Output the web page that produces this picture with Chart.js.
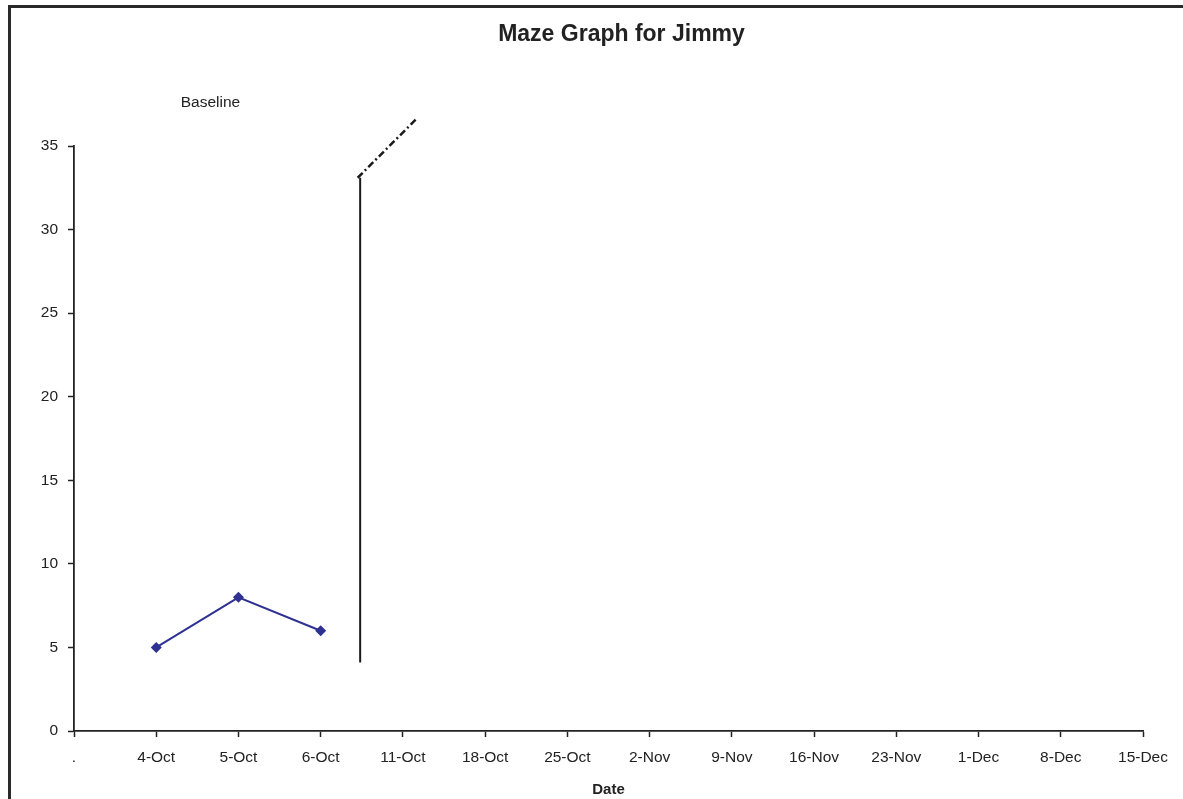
<!DOCTYPE html>
<html>
<head>
<meta charset="utf-8">
<title>Maze Graph for Jimmy</title>
<script src="https://cdn.jsdelivr.net/npm/chart.js@4.4.1/dist/chart.umd.min.js"></script>
<style>
  html, body { margin: 0; padding: 0; background: #fff; }
  canvas { display: block; }
</style>
</head>
<body>
<canvas id="maze" width="1183" height="799"></canvas>
<script>
// Session dates along the horizontal axis (first slot is a blank placeholder)
const dateLabels = ['.', '4-Oct', '5-Oct', '6-Oct', '11-Oct', '18-Oct', '25-Oct',
  '2-Nov', '9-Nov', '16-Nov', '23-Nov', '1-Dec', '8-Dec', '15-Dec'];

// Baseline maze scores
const baselineDates = ['4-Oct', '5-Oct', '6-Oct'];
const baselineScores = [5, 8, 6];

// Phase-change line between baseline and intervention
const phaseLineX = [3.48, 3.48];
const phaseLineY = [4.1, 33.1];
const phaseTailX = [3.45, 4.16];
const phaseTailY = [33.1, 36.6];

const yTicks = [0, 5, 10, 15, 20, 25, 30, 35];
const chartTitle = 'Maze Graph for Jimmy';
const phaseLabel = 'Baseline';

const FONT = "'Liberation Sans', Arial, Helvetica, sans-serif";
const INK = '#222222';

const toPoints = (xs, ys) => xs.map((x, i) => ({ x, y: ys[i] }));

// White page with a heavy frame on the left and top edges, plus the title
const framePlugin = {
  id: 'frame',
  beforeDraw(chart) {
    const ctx = chart.ctx;
    ctx.save();
    ctx.fillStyle = '#ffffff';
    ctx.fillRect(0, 0, chart.width, chart.height);
    ctx.strokeStyle = '#2a2a2a';
    ctx.lineWidth = 3;
    ctx.beginPath();
    ctx.moveTo(9.5, chart.height + 2);
    ctx.lineTo(9.5, 6.5);
    ctx.lineTo(chart.width + 2, 6.5);
    ctx.stroke();

    ctx.font = `bold 23px ${FONT}`;
    ctx.fillStyle = INK;
    ctx.textAlign = 'center';
    ctx.textBaseline = 'middle';
    ctx.fillText(chartTitle, 621.5, 34.5);
    ctx.restore();
  }
};

// Phase label placed in data coordinates
const phaseLabelPlugin = {
  id: 'phaseLabel',
  afterDatasetsDraw(chart) {
    const { ctx, scales } = chart;
    ctx.save();
    ctx.font = `15.5px ${FONT}`;
    ctx.fillStyle = INK;
    ctx.textAlign = 'center';
    ctx.textBaseline = 'middle';
    ctx.fillText(phaseLabel, scales.x.getPixelForValue(1.66), scales.y.getPixelForValue(37.6));
    ctx.restore();
  }
};

new Chart(document.getElementById('maze'), {
  type: 'line',
  data: {
    datasets: [
      {
        label: 'Baseline',
        data: baselineDates.map((d, i) => ({ x: dateLabels.indexOf(d), y: baselineScores[i] })),
        borderColor: '#2e3192',
        backgroundColor: '#2e3192',
        borderWidth: 2,
        pointStyle: 'rectRot',
        pointRadius: 5.5,
        pointBorderWidth: 0,
        tension: 0
      },
      {
        label: 'Phase change',
        data: toPoints(phaseLineX, phaseLineY),
        borderColor: '#1a1a1a',
        borderWidth: 2,
        pointRadius: 0,
        clip: false
      },
      {
        label: 'Phase change extension',
        data: toPoints(phaseTailX, phaseTailY),
        borderColor: '#1a1a1a',
        borderWidth: 2.5,
        borderDash: [7, 3, 2, 3],
        pointRadius: 0,
        clip: false
      }
    ]
  },
  options: {
    responsive: false,
    animation: false,
    layout: { padding: { left: 0, right: 40, top: 146, bottom: 0 } },
    plugins: {
      legend: { display: false },
      tooltip: { enabled: false },
      title: { display: false }
    },
    scales: {
      x: {
        type: 'linear',
        min: 0,
        max: dateLabels.length - 1,
        afterFit(scale) { scale.height = 68; },
        afterBuildTicks(scale) {
          scale.ticks = dateLabels.map((_, i) => ({ value: i }));
        },
        ticks: {
          autoSkip: false,
          maxRotation: 0,
          padding: 11,
          color: INK,
          font: { family: FONT, size: 15.5 },
          callback: (v) => dateLabels[v] ?? ''
        },
        grid: {
          drawOnChartArea: false,
          drawTicks: true,
          tickLength: 6,
          tickColor: INK,
          tickWidth: 1.5
        },
        border: { display: true, color: INK, width: 1.8 },
        title: {
          display: true,
          text: 'Date',
          color: INK,
          font: { family: FONT, size: 15, weight: 'bold', lineHeight: 1.2 },
          padding: { top: 4, bottom: 0 }
        }
      },
      y: {
        min: 0,
        max: 35,
        afterFit(scale) { scale.width = 74; },
        afterBuildTicks(scale) {
          scale.ticks = yTicks.map(v => ({ value: v }));
        },
        ticks: {
          padding: 10,
          color: INK,
          font: { family: FONT, size: 15.5 }
        },
        grid: {
          drawOnChartArea: false,
          drawTicks: true,
          tickLength: 6,
          tickColor: INK,
          tickWidth: 1.5
        },
        border: { display: true, color: INK, width: 1.8 }
      }
    }
  },
  plugins: [framePlugin, phaseLabelPlugin]
});
</script>
</body>
</html>
